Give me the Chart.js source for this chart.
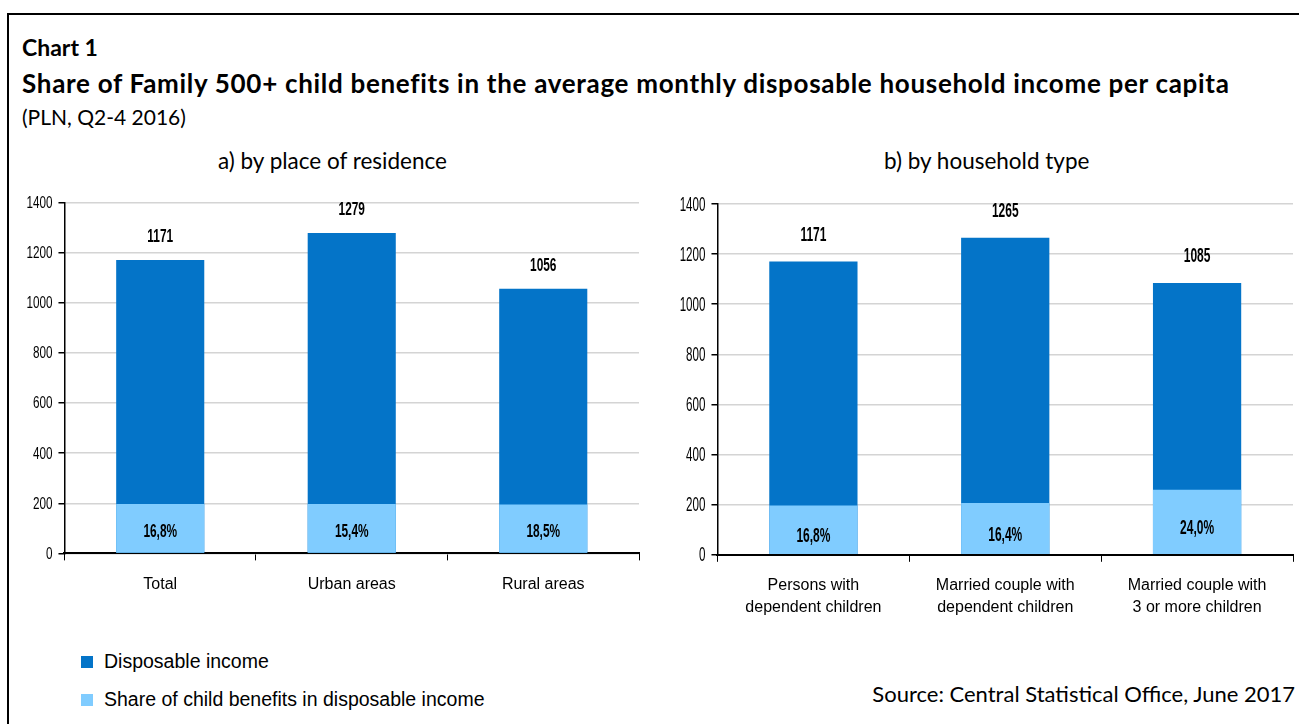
<!DOCTYPE html>
<html>
<head>
<meta charset="utf-8">
<script src="https://cdn.jsdelivr.net/npm/chart.js@4.4.1/dist/chart.umd.min.js"></script>
<style>
  body { margin: 0; background: #fff; width: 1299px; height: 724px; overflow: hidden; position: relative; font-family: Lato, 'Open Sans', sans-serif; }
  .frame { position: absolute; left: 7px; top: 13px; width: 1400px; height: 800px; border: 2px solid #000; }
  .t { position: absolute; color: #000; white-space: nowrap; }
  .box { position: absolute; }
  .leg { position: absolute; left: 81px; font-family: 'Liberation Sans', Arial, sans-serif; font-size: 19.5px; }
  .leg span { display: inline-block; width: 12px; height: 12px; margin-right: 11px; vertical-align: 0px; }
</style>
</head>
<body>
<div class="frame"></div>
<div class="t" style="left:22px;top:33px;font-size:23px;font-weight:bold;">Chart 1</div>
<div class="t" style="left:22px;top:67px;font-size:26px;font-weight:bold;letter-spacing:0.7px;">Share of Family 500+ child benefits in the average monthly disposable household income per capita</div>
<div class="t" style="left:22px;top:104px;font-size:21px;">(PLN, Q2-4 2016)</div>
<div class="t" style="left:218px;top:147px;font-size:22.5px;">a) by place of residence</div>
<div class="t" style="left:884px;top:147px;font-size:22.5px;">b) by household type</div>
<div class="box" style="left:14px;top:190px;width:631px;height:418px;"><canvas id="chartA"></canvas></div>
<div class="box" style="left:667px;top:190px;width:632px;height:441px;"><canvas id="chartB"></canvas></div>
<div class="leg" style="top:650px;"><span style="background:#0474C8"></span>Disposable income</div>
<div class="leg" style="top:688px;"><span style="background:#80CCFF"></span>Share of child benefits in disposable income</div>
<div class="t" style="right:4px;top:680px;font-size:22px;">Source: Central Statistical Office, June 2017</div>
<script>
const residenceLabels = ['Total', 'Urban areas', 'Rural areas'];
const residenceIncome = [1171, 1279, 1056];
const residenceBenefit = [197, 197, 195];
const residenceShare = ['16,8%', '15,4%', '18,5%'];

const householdLabels = [['Persons with', 'dependent children'], ['Married couple with', 'dependent children'], ['Married couple with', '3 or more children']];
const householdIncome = [1171, 1265, 1085];
const householdBenefit = [197, 207, 260];
const householdShare = ['16,8%', '16,4%', '24,0%'];

const yTicks = [0, 200, 400, 600, 800, 1000, 1200, 1400];

const sans = "'Liberation Sans', Arial, sans-serif";
const darkBlue = '#0474C8';
const lightBlue = '#80CCFF';

// narrow text: the original uses a condensed face, so squeeze a normal one
function narrowText(ctx, text, x, y, sx) {
  ctx.save();
  ctx.translate(x, y);
  ctx.scale(sx, 1);
  ctx.fillText(text, 0, 0);
  ctx.restore();
}

const barLabels = {
  id: 'barLabels',
  afterDraw(chart, args, o) {
    const ctx = chart.ctx;
    const dark = chart.getDatasetMeta(0);
    const light = chart.getDatasetMeta(1);
    ctx.save();
    ctx.fillStyle = '#000';
    ctx.textAlign = 'center';
    ctx.textBaseline = 'middle';
    ctx.font = 'bold ' + o.size + 'px ' + sans;
    dark.data.forEach((bar, i) => {
      narrowText(ctx, String(chart.data.datasets[0].data[i]), bar.x, bar.y - o.above, o.sx);
    });
    light.data.forEach((bar, i) => {
      narrowText(ctx, o.shares[i], bar.x, (bar.y + bar.base) / 2 + o.shift, o.sx);
    });
    // y tick labels
    const y = chart.scales.y;
    ctx.font = o.tickSize + 'px ' + sans;
    ctx.textAlign = 'right';
    yTicks.forEach(v => {
      narrowText(ctx, String(v), y.right - 12, y.getPixelForValue(v) + 1, o.tickSx);
    });
    ctx.restore();
  }
};

function makeChart(id, labels, income, benefit, lbl, padLeft, padTop) {
  return new Chart(document.getElementById(id), {
    type: 'bar',
    data: {
      labels: labels,
      datasets: [{
        label: 'Disposable income',
        data: income,
        backgroundColor: darkBlue,
        barPercentage: 0.46,
        categoryPercentage: 1,
        order: 2
      }, {
        label: 'Share of child benefits in disposable income',
        data: benefit,
        backgroundColor: lightBlue,
        barPercentage: 0.46,
        categoryPercentage: 1,
        order: 1
      }]
    },
    options: {
      responsive: true,
      maintainAspectRatio: false,
      animation: false,
      layout: { padding: { top: padTop, right: 6, left: padLeft, bottom: 0 } },
      plugins: {
        legend: { display: false },
        tooltip: { enabled: false },
        barLabels: lbl
      },
      scales: {
        x: {
          stacked: true,
          grid: { display: true, drawOnChartArea: false, color: '#000', tickLength: 7, offset: true },
          border: { color: '#000', width: 2 },
          ticks: { color: '#000', font: { family: sans, size: 16, lineHeight: 1.35 }, padding: 13, maxRotation: 0 }
        },
        y: {
          stacked: false,
          min: 0,
          max: 1400,
          afterBuildTicks: (axis) => { axis.ticks = yTicks.map(v => ({ value: v })); },
          grid: { color: '#d4d4d4', tickColor: '#000', tickLength: 6, lineWidth: 1.5 },
          border: { color: '#000', width: 1.5 },
          ticks: { color: 'rgba(0,0,0,0)', font: { family: sans, size: 11 }, padding: 6, callback: v => String(v) }
        }
      }
    },
    plugins: [barLabels]
  });
}

makeChart('chartA', residenceLabels, residenceIncome, residenceBenefit,
  { shares: residenceShare, size: 18, sx: 0.66, above: 23, shift: 3.5, tickSize: 16, tickSx: 0.73 }, 8, 7.5);
makeChart('chartB', householdLabels, householdIncome, householdBenefit,
  { shares: householdShare, size: 20, sx: 0.6, above: 26, shift: 7, tickSize: 20, tickSx: 0.58 }, 8, 14);
</script>
</body>
</html>
